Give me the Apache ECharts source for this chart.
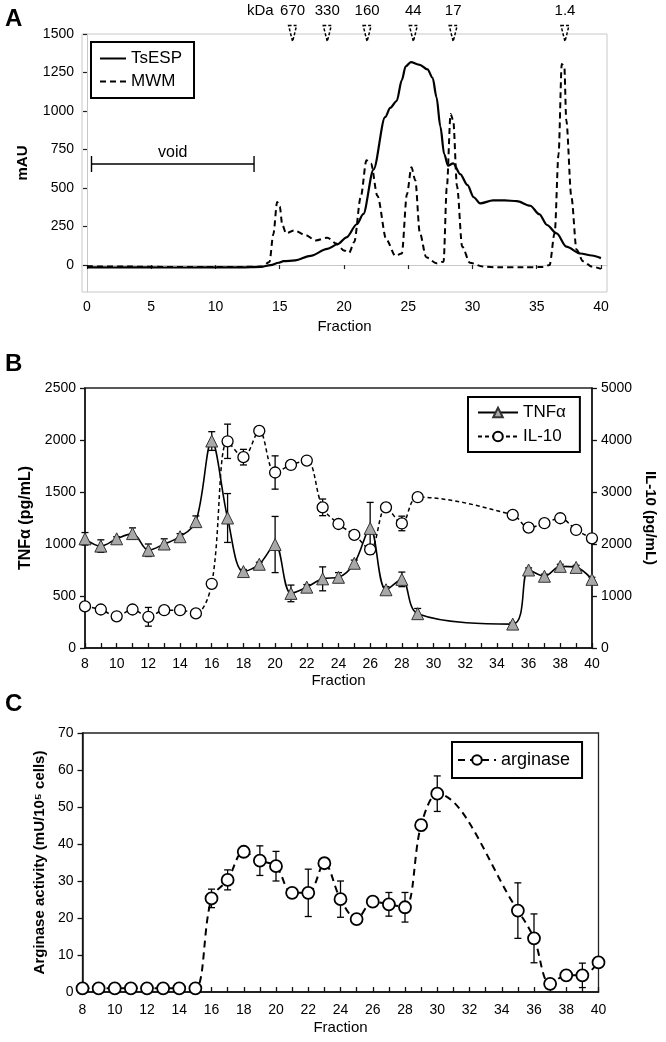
<!DOCTYPE html>
<html><head><meta charset="utf-8">
<script src="https://cdn.jsdelivr.net/npm/echarts@6/dist/echarts.min.js"></script>
<style>html,body{margin:0;padding:0;background:#fff}#c{width:666px;height:1042px}</style>
</head><body><div id="c"></div>
<script>
// ---------- Panel A: chromatogram ----------
const fracTsESP = [0,2,4,6,8,10,12,13.5,14.3,14.9,15.3,16.2,17.4,18.7,19.5,20.2,21.0,21.5,22.3,23.2,23.6,24.1,24.5,24.8,25.2,25.9,26.5,26.9,27.2,27.5,27.8,28.1,28.5,29.05,29.6,30.1,30.6,31.6,32.5,33.45,34.5,35.2,35.8,36.55,37.3,38.4,39.3,40];
const mauTsESP  = [-15,-16,-15,-16,-16,-15,-15,-12,0,15,25,30,60,105,135,180,265,330,620,960,1020,1065,1200,1290,1318,1300,1270,1215,1090,900,720,645,660,590,520,440,400,420,420,415,385,330,260,205,120,75,62,45];
const fracMWM = [0,3,6,9,12,13.6,14.2,14.5,14.8,15.0,15.2,15.5,16.1,17.0,17.8,18.7,19.4,20.0,20.4,20.8,21.3,21.75,22.1,22.6,23.3,24.0,24.5,24.9,25.25,25.55,25.9,26.4,27.2,27.75,28.0,28.3,28.5,28.8,29.2,29.8,30.8,32,34,35.5,36.0,36.4,36.7,36.95,37.15,37.3,37.7,38.1,38.6,39.3,40];
const mauMWM  = [-8,-10,-12,-12,-12,-10,20,200,410,380,260,205,225,195,160,178,140,95,80,150,440,680,660,450,165,60,75,460,635,550,210,50,12,22,500,980,940,510,120,15,-10,-15,-15,-12,0,210,720,1305,1285,940,440,100,25,-10,-25];
const mwmFrac = [16.0, 18.7, 21.8, 25.4, 28.5, 37.2];
const mwmKDa  = ['670','330','160','44','17','1.4'];
const voidRange = [0.35, 13.0];
const voidLevel = 656;
const aXTicks = [0,5,10,15,20,25,30,35,40];
const aYTicks = [0,250,500,750,1000,1250,1500];

// ---------- Panel B: cytokines ----------
const fracB  = [8,9,10,11,12,13,14,15,16,17,18,19,20,21,22,23,24,25,26,27,28,29,35,36,37,38,39,40];
const tnf    = [1050,980,1050,1100,940,1000,1070,1215,1990,1250,735,805,995,525,585,665,680,815,1150,560,660,330,230,750,690,785,775,660];
const tnfErr = [60,60,20,55,60,50,30,55,90,235,20,20,270,80,25,115,45,30,250,30,70,50,15,20,20,20,20,20];
const il10   = [800,740,610,740,600,727,727,665,1235,3975,3670,4175,3375,3520,3605,2705,2385,2175,1895,2705,2395,2900,2560,2315,2400,2495,2270,2110];
const il10Err= [30,30,30,30,180,30,30,30,30,330,150,30,320,80,30,160,30,30,30,80,140,30,30,30,30,30,30,30];

// ---------- Panel C: arginase ----------
const fracC = [8,9,10,11,12,13,14,15,16,17,18,19,20,21,22,23,24,25,26,27,28,29,30,35,36,37,38,39,40];
const arginase    = [1,1,1,1,1,1,1,1,25.3,30.3,37.9,35.5,34,26.8,26.8,34.8,25.1,19.7,24.4,23.7,22.9,45.1,53.6,22,14.5,2.2,4.5,4.5,8];
const arginaseErr = [0.3,0.3,0.3,0.3,0.3,0.3,0.3,0.3,2.5,2.7,0.5,4,4,1,6.4,1,4.9,0.5,0.5,3.2,4,1.5,4.8,7.5,6.6,0.5,0.5,3.3,0.5];

const FONT = '"Liberation Sans", Arial, Helvetica, sans-serif';
const zip = (a, b) => a.map((v, i) => [v, b[i]]);
const errData = (x, v, e) => x.map((f, i) => [f, v[i] - e[i], v[i] + e[i]]);
const plain = v => String(v);

function errRender(capW) {
  return function (params, api) {
    const x = api.value(0), lo = api.value(1), hi = api.value(2);
    const pLo = api.coord([x, lo]), pHi = api.coord([x, hi]);
    const style = { stroke: '#000', lineWidth: 1.3, fill: null };
    return { type: 'group', children: [
      { type: 'line', shape: { x1: pLo[0], y1: pLo[1], x2: pHi[0], y2: pHi[1] }, style },
      { type: 'line', shape: { x1: pHi[0] - capW / 2, y1: pHi[1], x2: pHi[0] + capW / 2, y2: pHi[1] }, style },
      { type: 'line', shape: { x1: pLo[0] - capW / 2, y1: pLo[1], x2: pLo[0] + capW / 2, y2: pLo[1] }, style }
    ]};
  };
}

const lbl = { color: '#000', fontFamily: FONT, fontSize: 14, formatter: plain };
const nameStyleBold = { color: '#000', fontFamily: FONT, fontSize: 15, fontWeight: 'bold' };
const nameStyle = { color: '#000', fontFamily: FONT, fontSize: 15 };
const evenOnly = v => (v % 2 === 0 ? String(v) : '');

const option = {
  animation: false,
  backgroundColor: '#fff',
  textStyle: { fontFamily: FONT },
  grid: [
    { left: 82, top: 34, width: 525, height: 258, show: true, borderColor: '#c8c8c8', borderWidth: 1 },
    { left: 85, top: 388, width: 511, height: 260, show: true, borderColor: '#222', borderWidth: 1.3 },
    { left: 82.5, top: 733, width: 516, height: 259, show: true, borderColor: '#222', borderWidth: 1.3 }
  ],
  xAxis: [
    { type: 'value', gridIndex: 0, min: -0.39, max: 40.47,
      axisLine: { show: true, lineStyle: { color: '#c8c8c8', width: 1 } },
      axisTick: { show: true, length: 4, customValues: aXTicks, lineStyle: { color: '#222', width: 1.2 } },
      axisLabel: { customValues: aXTicks, margin: 8, ...lbl },
      splitLine: { show: false },
      name: 'Fraction', nameLocation: 'middle', nameGap: 27, nameTextStyle: nameStyle },
    { type: 'value', gridIndex: 1, min: 8, max: 40, interval: 1,
      axisLine: { show: true, lineStyle: { color: '#111', width: 1.5 } },
      axisTick: { show: true, inside: true, length: 5, lineStyle: { color: '#111', width: 1.3 } },
      axisLabel: { margin: 9, ...lbl, formatter: evenOnly },
      splitLine: { show: false },
      name: 'Fraction', nameLocation: 'middle', nameGap: 25, nameTextStyle: nameStyle },
    { type: 'value', gridIndex: 2, min: 8, max: 40, interval: 1,
      axisLine: { show: true, lineStyle: { color: '#111', width: 1.5 } },
      axisTick: { show: true, inside: true, length: 5, lineStyle: { color: '#111', width: 1.3 } },
      axisLabel: { margin: 11, ...lbl, formatter: evenOnly },
      splitLine: { show: false },
      name: 'Fraction', nameLocation: 'middle', nameGap: 28, nameTextStyle: nameStyle }
  ],
  yAxis: [
    { type: 'value', gridIndex: 0, min: -175, max: 1500,
      axisLine: { show: true, lineStyle: { color: '#c8c8c8', width: 1 } },
      axisTick: { show: true, length: 4, customValues: aYTicks, lineStyle: { color: '#222', width: 1.2 } },
      axisLabel: { customValues: aYTicks, margin: 8, ...lbl },
      splitLine: { show: false },
      name: 'mAU', nameLocation: 'middle', nameGap: 52, nameRotate: 90, nameTextStyle: nameStyleBold },
    { type: 'value', gridIndex: 1, min: 0, max: 2500, interval: 500,
      axisLine: { show: true, lineStyle: { color: '#111', width: 1.5 } },
      axisTick: { show: true, length: 5, lineStyle: { color: '#111', width: 1.3 } },
      axisLabel: { margin: 9, ...lbl },
      splitLine: { show: false },
      name: 'TNFα (pg/mL)', nameLocation: 'middle', nameGap: 51, nameRotate: 90,
      nameTextStyle: { ...nameStyleBold, fontSize: 16 } },
    { type: 'value', gridIndex: 1, position: 'right', min: 0, max: 5000, interval: 1000,
      axisLine: { show: true, lineStyle: { color: '#111', width: 1.5 } },
      axisTick: { show: true, length: 5, lineStyle: { color: '#111', width: 1.3 } },
      axisLabel: { margin: 9, ...lbl },
      splitLine: { show: false },
      name: 'IL-10 (pg/mL)', nameLocation: 'middle', nameGap: 48, nameRotate: -90, nameTextStyle: nameStyleBold },
    { type: 'value', gridIndex: 2, min: 0, max: 70, interval: 10,
      axisLine: { show: true, lineStyle: { color: '#111', width: 1.5 } },
      axisTick: { show: true, length: 5, lineStyle: { color: '#111', width: 1.3 } },
      axisLabel: { margin: 9, ...lbl },
      splitLine: { show: false },
      name: 'Arginase activity (mU/10⁵ cells)', nameLocation: 'middle', nameGap: 34, nameRotate: 90, nameTextStyle: nameStyleBold }
  ],
  legend: [
    { data: ['TsESP', 'MWM'], orient: 'vertical', left: 91, top: 42, padding: [8, 12, 8, 8],
      itemWidth: 26, itemHeight: 14, itemGap: 6, borderColor: '#000', borderWidth: 2,
      itemStyle: { color: 'rgba(0,0,0,0)', borderColor: 'rgba(0,0,0,0)', borderWidth: 0, opacity: 0 },
      textStyle: { color: '#000', fontFamily: FONT, fontSize: 17 } },
    { data: ['TNFα', 'IL-10'], orient: 'vertical', left: 468, top: 397, padding: [7, 14, 7, 9],
      itemWidth: 40, itemHeight: 12, itemGap: 7, borderColor: '#000', borderWidth: 2,
      textStyle: { color: '#000', fontFamily: FONT, fontSize: 17 } },
    { data: ['arginase'], orient: 'vertical', left: 452, top: 742, padding: [9, 12, 9, 5],
      itemWidth: 38, itemHeight: 12, borderColor: '#000', borderWidth: 2,
      textStyle: { color: '#000', fontFamily: FONT, fontSize: 18 } }
  ],
  graphic: [
    { type: 'text', left: 5, top: 7, style: { text: 'A', fontFamily: FONT, fontSize: 24, fontWeight: 'bold', fill: '#000' } },
    { type: 'text', left: 5, top: 352, style: { text: 'B', fontFamily: FONT, fontSize: 24, fontWeight: 'bold', fill: '#000' } },
    { type: 'text', left: 5, top: 692, style: { text: 'C', fontFamily: FONT, fontSize: 24, fontWeight: 'bold', fill: '#000' } },
    { type: 'text', left: 247, top: 3, style: { text: 'kDa', fontFamily: FONT, fontSize: 15, fill: '#000' } }
  ],
  series: [
    { name: 'TsESP', type: 'line', xAxisIndex: 0, yAxisIndex: 0, data: zip(fracTsESP, mauTsESP),
      symbol: 'none', showSymbol: false, smooth: 0.3, smoothMonotone: 'x',
      lineStyle: { color: '#000', width: 2.2 }, itemStyle: { color: '#000' }, z: 3 },
    { name: 'MWM', type: 'line', xAxisIndex: 0, yAxisIndex: 0, data: zip(fracMWM, mauMWM),
      symbol: 'none', showSymbol: false, smooth: 0.3, smoothMonotone: 'x',
      lineStyle: { color: '#000', width: 2, type: [6, 4] }, itemStyle: { color: '#000' }, z: 3 },
    { name: 'markers', type: 'custom', xAxisIndex: 0, yAxisIndex: 0, clip: false,
      data: mwmFrac.map(f => [f, 1503]),
      renderItem: function (params, api) {
        const p = api.coord([api.value(0), api.value(1)]);
        return { type: 'group', children: [
          { type: 'polygon', shape: { points: [[p[0] - 4, p[1] - 8], [p[0] + 4, p[1] - 8], [p[0], p[1] + 8]] },
            style: { fill: '#fff', stroke: '#000', lineWidth: 1.5, lineDash: [3, 2] } },
          { type: 'text', style: { text: mwmKDa[params.dataIndex], x: p[0], y: p[1] - 15,
            align: 'center', verticalAlign: 'bottom', textAlign: 'center', textVerticalAlign: 'bottom',
            fontFamily: FONT, fontSize: 15, fill: '#000' } }
        ]};
      }, z: 5 },
    { name: 'void', type: 'custom', xAxisIndex: 0, yAxisIndex: 0, clip: false,
      data: [[voidRange[0], voidRange[1], voidLevel]],
      renderItem: function (params, api) {
        const p1 = api.coord([api.value(0), api.value(2)]);
        const p2 = api.coord([api.value(1), api.value(2)]);
        const st = { stroke: '#000', lineWidth: 1.4, fill: null };
        return { type: 'group', children: [
          { type: 'line', shape: { x1: p1[0], y1: p1[1], x2: p2[0], y2: p2[1] }, style: st },
          { type: 'line', shape: { x1: p1[0], y1: p1[1] - 8, x2: p1[0], y2: p1[1] + 8 }, style: st },
          { type: 'line', shape: { x1: p2[0], y1: p2[1] - 8, x2: p2[0], y2: p2[1] + 8 }, style: st },
          { type: 'text', style: { text: 'void', x: (p1[0] + p2[0]) / 2, y: p1[1] - 3,
            align: 'center', verticalAlign: 'bottom', textAlign: 'center', textVerticalAlign: 'bottom',
            fontFamily: FONT, fontSize: 16, fill: '#000' } }
        ]};
      } },

    { name: 'TNFα err', type: 'custom', xAxisIndex: 1, yAxisIndex: 1, data: errData(fracB, tnf, tnfErr),
      encode: { x: 0, y: [1, 2] }, renderItem: errRender(7), z: 1 },
    { name: 'IL-10 err', type: 'custom', xAxisIndex: 1, yAxisIndex: 2, data: errData(fracB, il10, il10Err),
      encode: { x: 0, y: [1, 2] }, renderItem: errRender(7), z: 1 },
    { name: 'TNFα', type: 'line', xAxisIndex: 1, yAxisIndex: 1, data: zip(fracB, tnf),
      smooth: 0.35, symbol: 'triangle', symbolSize: 12, showSymbol: true,
      lineStyle: { color: '#000', width: 1.6 },
      itemStyle: { color: '#a8a8a8', borderColor: '#333', borderWidth: 1 }, z: 3 },
    { name: 'IL-10', type: 'line', xAxisIndex: 1, yAxisIndex: 2, data: zip(fracB, il10),
      smooth: 0.35, symbol: 'circle', symbolSize: 11, showSymbol: true,
      lineStyle: { color: '#000', width: 1.5, type: [4, 3] },
      itemStyle: { color: '#fff', borderColor: '#000', borderWidth: 1.3 }, z: 4 },

    { name: 'arginase err', type: 'custom', xAxisIndex: 2, yAxisIndex: 3, data: errData(fracC, arginase, arginaseErr),
      encode: { x: 0, y: [1, 2] }, renderItem: errRender(7), z: 1 },
    { name: 'arginase', type: 'line', xAxisIndex: 2, yAxisIndex: 3, data: zip(fracC, arginase),
      smooth: 0.35, symbol: 'circle', symbolSize: 12, showSymbol: true,
      lineStyle: { color: '#000', width: 2, type: [7, 5] },
      itemStyle: { color: '#fff', borderColor: '#000', borderWidth: 1.8 }, z: 3 }
  ]
};

const chart = echarts.init(document.getElementById('c'), null, { renderer: 'canvas', width: 666, height: 1042 });
chart.setOption(option);
</script>
</body></html>
